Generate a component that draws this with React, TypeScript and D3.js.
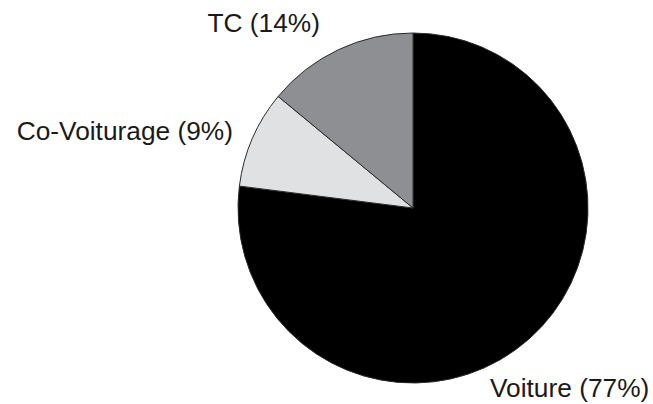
import React from "react";
import * as d3 from "d3";

// data
const categories = ["Voiture", "Co-Voiturage", "TC"];
const shares = [77, 9, 14];
const colors = ["#000000", "#e0e1e3", "#8e8f93"];

// label placement (anchor point + alignment)
const labelPos: { x: number; y: number; anchor: string }[] = [
  { x: 490, y: 397, anchor: "start" },
  { x: 233, y: 140, anchor: "end" },
  { x: 320, y: 32, anchor: "end" },
];

const W = 653;
const H = 404;
const cx = 413;
const cy = 208;
const radius = 175;

export default function App() {
  const pie = d3
    .pie<number>()
    .sort(null)
    .value((d) => d);
  const arc = d3
    .arc<d3.PieArcDatum<number>>()
    .innerRadius(0)
    .outerRadius(radius);
  const arcs = pie(shares);

  return (
    <svg
      width={W}
      height={H}
      style={{ position: "absolute", left: 0, top: 0, background: "#fff" }}
    >
      <g transform={`translate(${cx},${cy})`}>
        {arcs.map((a, i) => (
          <path
            key={categories[i]}
            d={arc(a) || ""}
            fill={colors[i]}
            stroke="#2a2a2a"
            strokeWidth={1}
          />
        ))}
      </g>
      {categories.map((c, i) => (
        <text
          key={c}
          x={labelPos[i].x}
          y={labelPos[i].y}
          textAnchor={labelPos[i].anchor}
          fontFamily="'Liberation Sans', Arial, sans-serif"
          fontSize={26.3}
          fill="#1a1a1a"
        >
          {`${c} (${shares[i]}%)`}
        </text>
      ))}
    </svg>
  );
}
